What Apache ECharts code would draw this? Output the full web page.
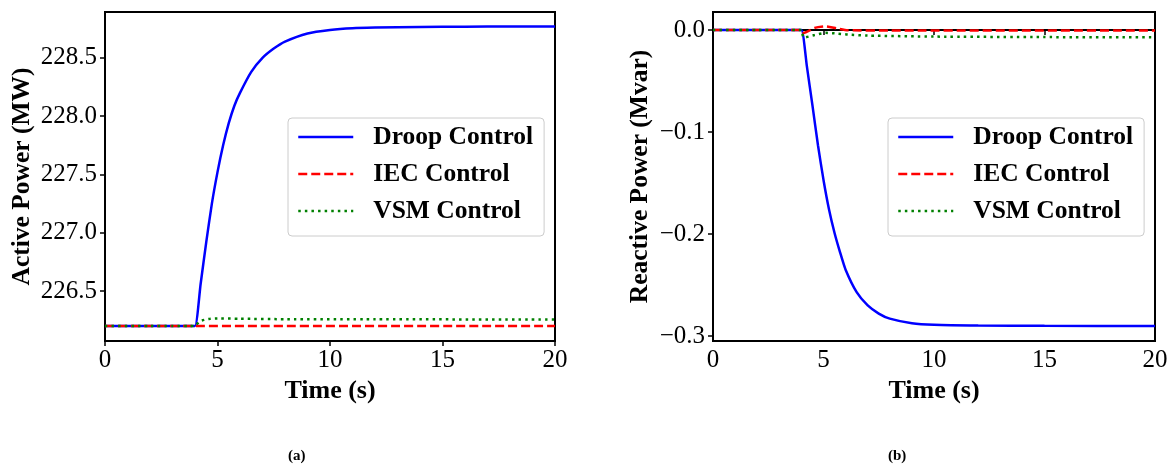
<!DOCTYPE html>
<html>
<head>
<meta charset="utf-8">
<script src="https://cdn.jsdelivr.net/npm/echarts@6/dist/echarts.min.js"></script>
<style>
  html, body { margin: 0; padding: 0; background: #fff; }
  #chart { width: 1173px; height: 466px; }
</style>
</head>
<body>
<div id="chart"></div>
<script>
// (a) active power
var tDroopP = [0, 2, 3, 3.5, 3.75, 4, 4.25, 4.5, 4.75, 5, 5.25, 5.5, 5.75, 6, 6.5, 7, 7.5, 8, 9, 10, 11, 12, 14, 16, 18, 20];
var droopP = [226.2, 226.2, 226.2, 226.2, 226.2, 226.2, 226.56, 226.92, 227.25, 227.52, 227.75, 227.94, 228.09, 228.2, 228.38, 228.5, 228.58, 228.64, 228.71, 228.74, 228.755, 228.76, 228.765, 228.768, 228.77, 228.77];
var tIecP = [0, 4, 20];
var iecP = [226.2, 226.2, 226.2];
var tVsmP = [0, 2, 3, 3.75, 4, 4.2, 4.6, 5, 6, 8, 12, 20];
var vsmP = [226.2, 226.2, 226.2, 226.2, 226.2, 226.24, 226.26, 226.265, 226.262, 226.258, 226.257, 226.256];

// (b) reactive power
var tDroopQ = [0, 2, 3, 3.5, 3.75, 4, 4.25, 4.5, 4.75, 5, 5.25, 5.5, 5.75, 6, 6.5, 7, 7.5, 8, 9, 10, 12, 15, 20];
var droopQ = [0, 0, 0, 0, 0, 0, -0.036, -0.074, -0.113, -0.147, -0.176, -0.199, -0.218, -0.235, -0.257, -0.270, -0.278, -0.283, -0.2875, -0.289, -0.2897, -0.290, -0.2902];
var tIecQ = [0, 2, 3, 3.75, 4, 4.1, 4.6, 5.1, 5.6, 6.1, 8, 20];
var iecQ = [0, 0, 0, 0, 0, -0.003, 0.002, 0.0035, 0.0015, -0.0003, -0.0005, -0.0005];
var tVsmQ = [0, 2, 3, 3.75, 4, 4.1, 4.6, 5.1, 5.6, 6.1, 7, 10, 15, 20];
var vsmQ = [0, 0, 0, 0, 0, -0.0075, -0.005, -0.0028, -0.0035, -0.0045, -0.0055, -0.0065, -0.007, -0.0072];

var xTicks = [0, 5, 10, 15, 20];
var names = ['Droop Control', 'IEC Control', 'VSM Control'];

function pairs(t, v) {
  return t.map(function (x, i) { return [x, v[i]]; });
}

var serif = 'Liberation Serif';
var styles = [
  { color: '#0000ff', width: 2.5, type: 'solid' },
  { color: '#ff0000', width: 2.5, type: [9, 4] },
  { color: '#008000', width: 2.5, type: [2.5, 4.1] }
];

function mkSeries(name, idx, data, k) {
  return {
    name: name,
    type: 'line',
    xAxisIndex: idx,
    yAxisIndex: idx,
    data: data,
    showSymbol: false,
    symbol: 'none',
    smooth: 0.2,
    z: 3 + k,
    itemStyle: { color: styles[k].color },
    lineStyle: styles[k]
  };
}

function mkX(idx) {
  return {
    type: 'value',
    gridIndex: idx,
    min: xTicks[0],
    max: xTicks[xTicks.length - 1],
    interval: 5,
    name: 'Time (s)',
    nameLocation: 'middle',
    nameGap: 27,
    nameTextStyle: { fontFamily: serif, fontWeight: 'bold', fontSize: 26, color: '#000' },
    axisLine: { show: true, lineStyle: { color: '#000', width: 2 } },
    axisTick: { show: true, length: 5, lineStyle: { color: '#000', width: 1.5 } },
    axisLabel: { fontFamily: serif, fontSize: 25, color: '#000', margin: 7 },
    splitLine: { show: false }
  };
}

function mkY(idx, name, min, max, gap, split) {
  return {
    type: 'value',
    gridIndex: idx,
    min: min,
    max: max,
    splitNumber: split,
    name: name,
    nameLocation: 'middle',
    nameGap: gap,
    nameTextStyle: { fontFamily: serif, fontWeight: 'bold', fontSize: 25.5, color: '#000' },
    axisLine: { show: true, lineStyle: { color: '#000', width: 2 } },
    axisTick: { show: true, length: 5, lineStyle: { color: '#000', width: 1.5 } },
    axisLabel: {
      fontFamily: serif, fontSize: 25, color: '#000', margin: 8,
      showMinLabel: false, showMaxLabel: false,
      formatter: function (v) {
        var s = Math.abs(v) < 1e-9 ? '0.0' : v.toFixed(1);
        return s.replace('-', '\u2212');
      }
    },
    splitLine: { show: false }
  };
}

function mkLegend(left, top) {
  return {
    orient: 'vertical',
    left: left,
    top: top,
    data: names,
    itemWidth: 55,
    itemHeight: 25,
    itemGap: 11,
    padding: [6, 11, 12, 9],
    backgroundColor: '#fff',
    borderColor: '#cccccc',
    borderWidth: 1,
    borderRadius: 4,
    selectedMode: false,
    itemStyle: { opacity: 0 },
    lineStyle: { width: 2.5 },
    textStyle: { fontFamily: serif, fontWeight: 'bold', fontSize: 25.5, color: '#000', padding: [0, 0, 0, 15] }
  };
}

var chart = echarts.init(document.getElementById('chart'));
var option = {
  backgroundColor: '#fff',
  animation: false,
  grid: [
    { left: 105, top: 12, width: 450, height: 329, show: true, borderColor: '#000', borderWidth: 2, backgroundColor: 'transparent' },
    { left: 713, top: 12, width: 442, height: 329, show: true, borderColor: '#000', borderWidth: 2, backgroundColor: 'transparent' }
  ],
  xAxis: [mkX(0), mkX(1)],
  yAxis: [
    mkY(0, 'Active Power (MW)', 226.071, 228.894, 70, 5),
    mkY(1, 'Reactive Power (Mvar)', -0.3049, 0.0176, 60, 3)
  ],
  legend: [mkLegend(288, 118), mkLegend(888, 118)],
  graphic: [
    { type: 'text', left: 288, top: 449, style: { text: '(a)', font: 'bold 15px "Liberation Serif"', fill: '#000' } },
    { type: 'text', left: 888, top: 449, style: { text: '(b)', font: 'bold 15px "Liberation Serif"', fill: '#000' } }
  ],
  series: [
    mkSeries(names[0], 0, pairs(tDroopP, droopP), 0),
    mkSeries(names[1], 0, pairs(tIecP, iecP), 1),
    mkSeries(names[2], 0, pairs(tVsmP, vsmP), 2),
    mkSeries(names[0], 1, pairs(tDroopQ, droopQ), 0),
    mkSeries(names[1], 1, pairs(tIecQ, iecQ), 1),
    mkSeries(names[2], 1, pairs(tVsmQ, vsmQ), 2)
  ]
};
chart.setOption(option);
</script>
</body>
</html>
